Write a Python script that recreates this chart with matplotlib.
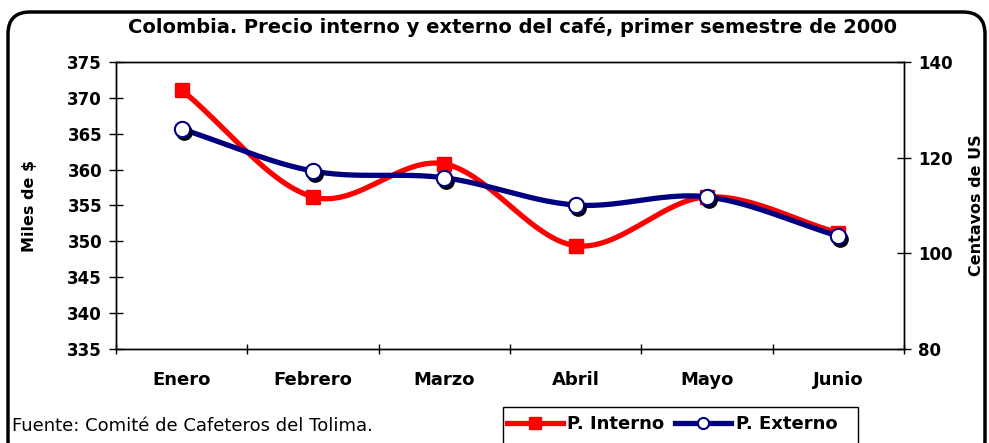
import numpy as np
import matplotlib
matplotlib.use("Agg")
import matplotlib.pyplot as plt
from matplotlib.patches import FancyBboxPatch, Rectangle
from matplotlib.lines import Line2D
from matplotlib.transforms import offset_copy

plt.rcParams['font.family'] = ['DejaVu Sans']

meses = ['Enero', 'Febrero', 'Marzo', 'Abril', 'Mayo', 'Junio']
interno = [371.1, 356.2, 360.8, 349.4, 356.2, 351.2]   # miles de $
externo = [126.0, 117.2, 115.8, 110.1, 111.8, 103.6]   # centavos de US
titulo = 'Colombia. Precio interno y externo del café, primer semestre de 2000'
fuente = 'Fuente: Comité de Cafeteros del Tolima.'

rojo = '#FF0000'
azul = '#000080'


def suave(x, y, n=30):
    # curva suavizada tipo Excel (Catmull-Rom) entre los puntos
    x = np.asarray(x, float)
    y = np.asarray(y, float)
    px = np.concatenate([[2 * x[0] - x[1]], x, [2 * x[-1] - x[-2]]])
    py = np.concatenate([[2 * y[0] - y[1]], y, [2 * y[-1] - y[-2]]])
    xs, ys = [], []
    t = np.linspace(0, 1, n)
    for i in range(1, len(px) - 2):
        for p, out in ((px, xs), (py, ys)):
            p0, p1, p2, p3 = p[i - 1], p[i], p[i + 1], p[i + 2]
            out.extend(0.5 * (2 * p1 + (-p0 + p2) * t
                              + (2 * p0 - 5 * p1 + 4 * p2 - p3) * t ** 2
                              + (-p0 + 3 * p1 - 3 * p2 + p3) * t ** 3))
    return np.array(xs), np.array(ys)


fig = plt.figure(figsize=(9.89, 4.43), dpi=100)
ax = fig.add_axes([116 / 989, 1 - 349 / 443, (904 - 116) / 989, (349 - 62) / 443])
ax2 = ax.twinx()

x = np.arange(len(meses))

sx, sy = suave(x, interno)
ax.plot(sx, sy, color=rojo, lw=3.8, solid_capstyle='round', zorder=2)
ax.plot(x, interno, ls='none', marker='s', ms=10, color=rojo, zorder=3)

ex, ey = suave(x, externo)
ax2.plot(ex, ey, color=azul, lw=3.8, solid_capstyle='round', zorder=2)
sombra = offset_copy(ax2.transData, fig=fig, x=2, y=-3, units='dots')
ax2.plot(x, externo, ls='none', marker='o', ms=11, color='black',
         transform=sombra, zorder=3)
ax2.plot(x, externo, ls='none', marker='o', ms=11, mfc='white', mec=azul,
         mew=1.5, zorder=4)

ax.set_xlim(-0.5, 5.5)
ax.set_ylim(335, 375)
ax.set_yticks(np.arange(335, 376, 5))
ax2.set_ylim(80, 140)
ax2.set_yticks([80, 100, 120, 140])

ax.set_xticks(np.arange(-0.5, 6, 1))
ax.set_xticklabels([])
ax.set_xticks(x, minor=True)
ax.set_xticklabels(meses, minor=True, fontsize=13, fontweight='bold')
ax.tick_params(axis='x', which='minor', length=0, pad=16)
ax.tick_params(axis='x', which='major', direction='inout', length=7, width=1)
ax.tick_params(axis='y', direction='inout', length=10, width=1, pad=5)
ax2.tick_params(axis='y', direction='inout', length=10, width=1, pad=5)
for lab in ax.get_yticklabels() + ax2.get_yticklabels():
    lab.set_fontsize(12)
    lab.set_fontweight('bold')

ax.set_ylabel('Miles de $', fontsize=11.5, fontweight='bold', labelpad=22)
ax2.set_ylabel('Centavos de US', fontsize=11.5, fontweight='bold', labelpad=12)

for a in (ax, ax2):
    for s in a.spines.values():
        s.set_linewidth(1)
        s.set_color('black')

fig.text(512 / 989, 1 - 27 / 443, titulo, ha='center', va='center',
         fontsize=14, fontweight='bold')
fig.text(12 / 989, 1 - 426 / 443, fuente, ha='left', va='center', fontsize=13)

handles = [
    Line2D([], [], color=rojo, lw=3.8, marker='s', ms=8),
    Line2D([], [], color=azul, lw=3.8, marker='o', ms=8, mfc='white', mec=azul,
           mew=1.5),
]
leg = fig.legend(handles, ['P. Interno', 'P. Externo'], ncol=2,
                 loc='center left', bbox_to_anchor=(507 / 989, 1 - 424 / 443),
                 frameon=False, handlelength=3.1,
                 handletextpad=0.25, columnspacing=0.6, borderpad=0,
                 borderaxespad=0, prop={'weight': 'bold', 'size': 13})

# marco de la leyenda, sigue hasta el borde inferior
fig.patches.append(Rectangle((503, -5), 355, 443 - 407 + 5, transform=None,
                             fill=False, lw=1, ec='black', figure=fig))

borde = FancyBboxPatch((8, -20), 977, 451 - 12 + 20 - 8,
                       boxstyle='round,pad=0,rounding_size=22',
                       transform=None, fill=False, lw=2.5, ec='black',
                       figure=fig)
fig.patches.append(borde)

fig.savefig('out.png', dpi=100)
